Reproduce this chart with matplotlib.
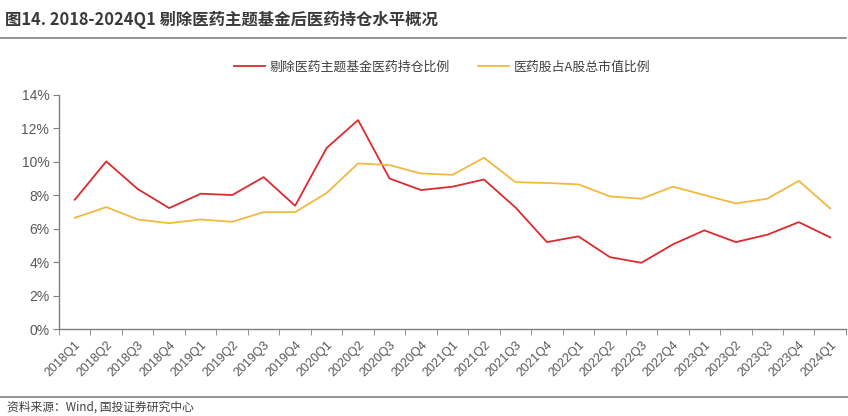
import matplotlib
matplotlib.use("Agg")
import matplotlib.pyplot as plt
from matplotlib.ticker import PercentFormatter, FixedLocator
from matplotlib.lines import Line2D

plt.rcParams['font.family'] = ['Noto Sans CJK SC', 'DejaVu Sans']

categories = ["2018Q1", "2018Q2", "2018Q3", "2018Q4", "2019Q1", "2019Q2", "2019Q3", "2019Q4",
              "2020Q1", "2020Q2", "2020Q3", "2020Q4", "2021Q1", "2021Q2", "2021Q3", "2021Q4",
              "2022Q1", "2022Q2", "2022Q3", "2022Q4", "2023Q1", "2023Q2", "2023Q3", "2023Q4",
              "2024Q1"]
excl_theme = [7.73, 10.02, 8.37, 7.23, 8.09, 8.01, 9.08, 7.37, 10.82, 12.49, 9.00, 8.31,
              8.51, 8.94, 7.27, 5.20, 5.54, 4.30, 3.96, 5.06, 5.90, 5.20, 5.64, 6.39, 5.48]
pharma_share = [6.65, 7.29, 6.55, 6.33, 6.55, 6.41, 6.99, 6.99, 8.13, 9.90, 9.80, 9.30,
                9.22, 10.24, 8.78, 8.73, 8.65, 7.93, 7.79, 8.51, 8.01, 7.51, 7.79, 8.86, 7.21]
series_names = ["剔除医药主题基金医药持仓比例", "医药股占A股总市值比例"]
yticks = [0, 2, 4, 6, 8, 10, 12, 14]

red = "#DC2A2E"
yellow = "#F0B942"
gray = "#7F7F7F"
txt = "#595959"

fig = plt.figure(figsize=(8.48, 4.16), dpi=100)
ax = fig.add_axes([0.0696, 0.209, 0.928, 0.563])
x = list(range(len(categories)))
ax.plot(x, excl_theme, color=red, lw=1.3)
ax.plot(x, pharma_share, color=yellow, lw=1.3)

ax.set_xlim(-0.5, len(categories) - 0.5)
ax.set_ylim(0, 14)
ax.yaxis.set_major_locator(FixedLocator(yticks))
ax.yaxis.set_major_formatter(PercentFormatter(decimals=0))
ax.set_xticks(x)
ax.set_xticklabels(categories, rotation=45, ha='right', rotation_mode='anchor',
                   fontsize=9, color=txt, family=['Liberation Sans'])
ax.set_xticks([i - 0.5 for i in range(len(categories) + 1)], minor=True)
ax.tick_params(axis='x', which='major', length=0, pad=7)
ax.tick_params(axis='x', which='minor', length=4, color=gray, direction='out')
ax.tick_params(axis='y', length=4, color=gray, labelsize=10, labelcolor=txt, pad=3)
for lab in ax.get_yticklabels():
    lab.set_family(['Liberation Sans'])
for s in ['top', 'right']:
    ax.spines[s].set_visible(False)
for s in ['left', 'bottom']:
    ax.spines[s].set_color(gray)
    ax.spines[s].set_linewidth(1.0)

handles = [Line2D([], [], color=red, lw=1.3), Line2D([], [], color=yellow, lw=1.3)]
fig.legend(handles, series_names, loc='center', bbox_to_anchor=(0.521, 0.838), ncol=2,
           frameon=False, fontsize=9.3, handlelength=2.4, handletextpad=0.35,
           columnspacing=2.2, labelcolor='#404040')

fig.text(0.006, 0.952, "图14. 2018-2024Q1 剔除医药主题基金后医药持仓水平概况",
         fontsize=11.8, fontweight='bold', color='#3A3A3A', va='center', ha='left')
fig.add_artist(Line2D([0.0, 0.998], [0.909, 0.909], color=gray, lw=1.2,
                      transform=fig.transFigure))
fig.add_artist(Line2D([0.0, 1.0], [0.046, 0.046], color=gray, lw=1.2,
                      transform=fig.transFigure))
fig.text(0.008, 0.022, "资料来源：Wind, 国投证券研究中心", fontsize=8.5, color='#404040',
         va='center', ha='left', style='italic')

fig.savefig("out.png", dpi=100)
